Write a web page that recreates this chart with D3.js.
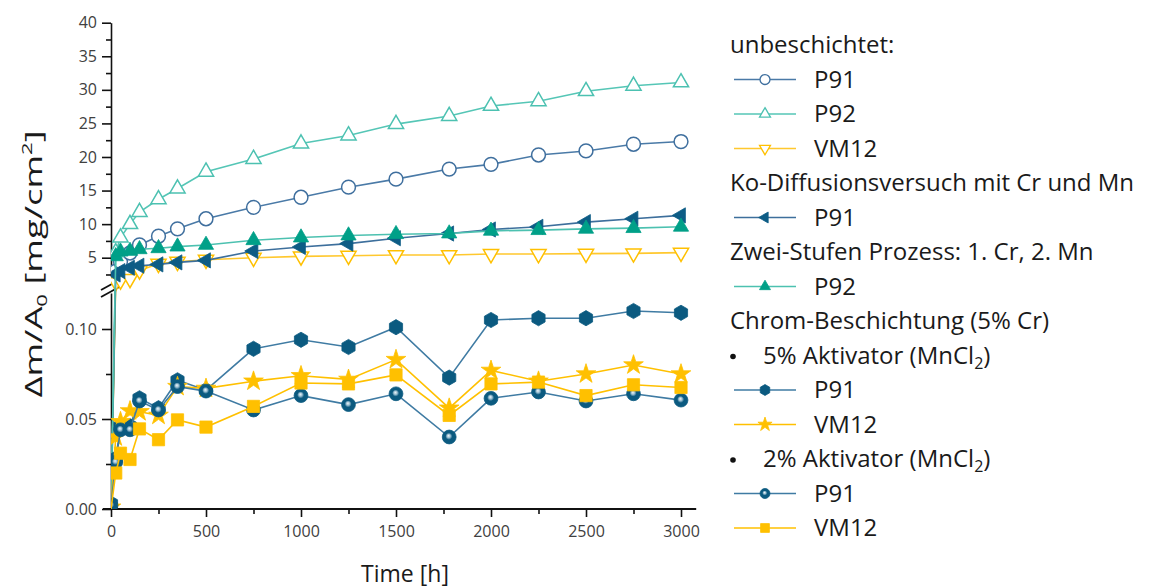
<!DOCTYPE html>
<html><head><meta charset="utf-8">
<script src="https://cdn.jsdelivr.net/npm/d3@7"></script>
<style>body{margin:0;background:#fff;} svg{display:block;font-family:"Open Sans",sans-serif;}</style>
</head><body><svg id="c" width="1152" height="588"></svg>
<script>
// ---- data ----
const times = [0, 25, 50, 100, 150, 250, 350, 500, 750, 1000, 1250, 1500, 1780, 2000, 2250, 2500, 2750, 3000];
// upper panel (mg/cm2)
const p91Uncoated  = [0, 3.0, 4.4, 5.7, 6.9, 8.2, 9.3, 10.8, 12.5, 14.0, 15.5, 16.7, 18.2, 18.9, 20.3, 20.9, 21.9, 22.3];
const p92Uncoated  = [0, 5.8, 8.0, 10.0, 11.8, 13.7, 15.3, 17.8, 19.7, 22.0, 23.2, 24.9, 26.1, 27.6, 28.3, 29.8, 30.6, 31.1];
const vm12Uncoated = [0, 1.5, 1.7, 1.9, 3.1, 4.1, 4.4, 4.7, 5.0, 5.2, 5.3, 5.4, 5.4, 5.55, 5.55, 5.6, 5.65, 5.75];
const p91CoDiff    = [0, 2.5, 3.0, 3.5, 3.8, 4.0, 4.3, 4.6, 6.0, 6.6, 7.1, 7.9, 8.6, 9.2, 9.6, 10.3, 10.8, 11.3];
const p92TwoStep   = [0, 5.2, 5.9, 6.0, 6.25, 6.4, 6.65, 6.9, 7.6, 8.0, 8.3, 8.5, 8.6, 9.0, 9.1, 9.3, 9.4, 9.6];
// lower panel (mg/cm2)
const p91Act5  = [0.003, 0.028, 0.046, 0.046, 0.0615, 0.056, 0.0715, 0.066, 0.089, 0.094, 0.090, 0.101, 0.073, 0.105, 0.106, 0.106, 0.110, 0.109];
const vm12Act5 = [0.001, 0.040, 0.0485, 0.0545, 0.054, 0.052, 0.068, 0.067, 0.071, 0.074, 0.072, 0.083, 0.056, 0.077, 0.071, 0.075, 0.080, 0.075];
const p91Act2  = [0.002, 0.026, 0.044, 0.044, 0.060, 0.055, 0.068, 0.0655, 0.055, 0.063, 0.058, 0.064, 0.040, 0.0615, 0.065, 0.060, 0.064, 0.0605];
const vm12Act2 = [0.0, 0.020, 0.031, 0.0275, 0.0445, 0.0385, 0.0495, 0.0455, 0.057, 0.070, 0.0695, 0.0745, 0.052, 0.0695, 0.0705, 0.063, 0.069, 0.0675];

const xTickValues = [0, 500, 1000, 1500, 2000, 2500, 3000];
const xMinorTicks = [250, 750, 1250, 1750, 2250, 2750];
const yLowTicks = [0, 0.05, 0.10];
const yLowMinor = [0.025, 0.075];
const yUpTicks = [5, 10, 15, 20, 25, 30, 35, 40];
const yUpMinor = [2.5, 7.5, 12.5, 17.5, 22.5, 27.5, 32.5, 37.5];

const legendHeaders = ["unbeschichtet:", "Ko-Diffusionsversuch mit Cr und Mn", "Zwei-Stufen Prozess: 1. Cr, 2. Mn", "Chrom-Beschichtung (5% Cr)"];
const legendBullets = ["5% Aktivator (MnCl", "2% Aktivator (MnCl"];

// ---- styles ----
const series = [
  {label:"P91",  values:p91Uncoated,  marker:"circle", fill:"#fff",    stroke:"#3f6f9e", line:"#4a7aa7", skipFirst:true},
  {label:"P92",  values:p92Uncoated,  marker:"triUp",  fill:"#fff",    stroke:"#4cc1b1", line:"#55c6b6", skipFirst:true},
  {label:"VM12", values:vm12Uncoated, marker:"triDown",fill:"#fff",    stroke:"#ffc000", line:"#ffc82e", skipFirst:true},
  {label:"P91",  values:p91CoDiff,    marker:"triLeft",fill:"#0d5c85", stroke:"#0d5c85", line:"#3d6f9c", skipFirst:true},
  {label:"P92",  values:p92TwoStep,   marker:"triUp",  fill:"#00a088", stroke:"#00a088", line:"#4cc1b0", skipFirst:true},
  {label:"P91",  values:p91Act5,      marker:"hex",    fill:"#0b5a80", stroke:"#0b5a80", line:"#3f7ba3"},
  {label:"VM12", values:vm12Act5,     marker:"star",   fill:"#ffc000", stroke:"#ffc000", line:"#ffc000"},
  {label:"P91",  values:p91Act2,      marker:"sphere", fill:"url(#sph)", stroke:"#0b5a80", line:"#3f7ba3"},
  {label:"VM12", values:vm12Act2,     marker:"square", fill:"#ffc000", stroke:"#ffc000", line:"#ffc000"}
];

const svg = d3.select("#c");
const defs = svg.append("defs");
const rg = defs.append("radialGradient").attr("id","sph").attr("cx","0.5").attr("cy","0.5").attr("r","0.5").attr("fx","0.45").attr("fy","0.4");
rg.append("stop").attr("offset","0%").attr("stop-color","#eef5f9");
rg.append("stop").attr("offset","25%").attr("stop-color","#9cc0d3");
rg.append("stop").attr("offset","50%").attr("stop-color","#0b5a80");
rg.append("stop").attr("offset","100%").attr("stop-color","#0b5a80");
defs.append("clipPath").attr("id","plotClip").append("rect").attr("x",111).attr("y",0).attr("width",600).attr("height",509);

const x = d3.scaleLinear().domain([0, 3000]).range([111, 681]);
const yLow = d3.scaleLinear().domain([0, 0.12]).range([509, 293]);
const yUp = d3.scaleLinear().domain([2.2, 40]).range([276.5, 22.7]);
const y = d3.scaleLinear().domain([0, 0.12, 2.2, 40]).range([509, 293, 276.5, 22.7]);

function markerPath(type, s) {
  const sc = s || 1;
  switch (type) {
    case "circle": case "sphere": return d3.symbol(d3.symbolCircle, 150*sc*sc)();
    case "triUp": case "triDown": case "triLeft": return d3.symbol(d3.symbolTriangle, 100*sc*sc)();
    case "star": return d3.symbol(d3.symbolStar, 120*sc*sc)();
    case "square": return d3.symbol(d3.symbolSquare, 150*sc*sc)();
    case "hex": {
      const r = 7.6*sc; const pts = d3.range(6).map(k => { const a = (-90 + 60*k) * Math.PI/180; return [r*Math.cos(a), r*Math.sin(a)]; });
      return "M" + pts.map(p => p.join(",")).join("L") + "Z";
    }
  }
}
function rot(type) { return type === "triDown" ? 180 : type === "triLeft" ? -90 : 0; }

const tickColor = "#404040";
const axisFont = 16;

// ---- axes ----
function styleAxis(g) {
  g.selectAll("path,line").attr("stroke", "#111").attr("stroke-width", 1.6);
  g.selectAll("text").attr("fill", tickColor).attr("font-size", axisFont).attr("font-family", '"Open Sans",sans-serif');
}
const gx = svg.append("g").attr("transform", "translate(0,509)")
  .call(d3.axisBottom(x).tickValues(xTickValues).tickSize(8).tickSizeOuter(0).tickPadding(9).tickFormat(d3.format("d")));
gx.select(".domain").remove();
styleAxis(gx);
const gxm = svg.append("g").attr("transform", "translate(0,509)")
  .call(d3.axisBottom(x).tickValues(xMinorTicks).tickSize(5).tickFormat(""));
gxm.select(".domain").remove();
styleAxis(gxm);
svg.append("line").attr("x1", x.range()[0] - 8).attr("x2", x(3080)).attr("y1", 509).attr("y2", 509)
  .attr("stroke", "#111").attr("stroke-width", 1.8);

const gyl = svg.append("g").attr("transform", "translate(111,0)")
  .call(d3.axisLeft(yLow).tickValues(yLowTicks).tickSize(9).tickSizeOuter(0).tickPadding(5).tickFormat(d3.format(".2f")));
styleAxis(gyl);
const gylm = svg.append("g").attr("transform", "translate(111,0)")
  .call(d3.axisLeft(yLow).tickValues(yLowMinor).tickSize(5).tickFormat(""));
gylm.select(".domain").remove(); styleAxis(gylm);
const gyu = svg.append("g").attr("transform", "translate(111,0)")
  .call(d3.axisLeft(yUp).tickValues(yUpTicks).tickSize(9).tickSizeOuter(0).tickPadding(5).tickFormat(d3.format("d")));
styleAxis(gyu);
const gyum = svg.append("g").attr("transform", "translate(111,0)")
  .call(d3.axisLeft(yUp).tickValues(yUpMinor).tickSize(5).tickFormat(""));
gyum.select(".domain").remove(); styleAxis(gyum);

// break marks
[0, 7].forEach(o => {
  svg.append("line").attr("x1", 101).attr("y1", 290 + o).attr("x2", 121).attr("y2", 279 + o)
    .attr("stroke", "#111").attr("stroke-width", 1.8);
});

// axis titles
svg.append("text").attr("x", 405).attr("y", 582).attr("text-anchor", "middle")
  .attr("font-size", 23).attr("fill", "#1a1a1a").text("Time [h]");
const yt = svg.append("text").attr("transform", "translate(42,264) rotate(-90) scale(1.58,1)").attr("text-anchor", "middle")
  .attr("font-size", 23).attr("fill", "#1a1a1a");
yt.append("tspan").text("Δm/A");
yt.append("tspan").attr("dy", 5).attr("font-size", 14).text("0");
yt.append("tspan").attr("dy", -5).text(" [mg/cm");
yt.append("tspan").attr("dy", -10).attr("font-size", 14).text("2");
yt.append("tspan").attr("dy", 10).text("]");

// ---- series ----
const plot = svg.append("g").attr("clip-path", "url(#plotClip)");
const line = d3.line().x(d => x(d.t)).y(d => y(d.v));
series.forEach(s => {
  const pts = times.map((t, i) => ({t, v: s.values[i]}));
  plot.append("path").datum(pts).attr("d", line).attr("fill", "none")
    .attr("stroke", s.line).attr("stroke-width", 1.6);
  const mp = s.skipFirst ? pts.slice(1) : pts.filter(d => d.v > 0);
  plot.selectAll(null).data(mp).enter().append("path")
    .attr("d", markerPath(s.marker))
    .attr("transform", d => `translate(${x(d.t)},${y(d.v)}) rotate(${rot(s.marker)})`)
    .attr("fill", s.fill).attr("stroke", s.stroke).attr("stroke-width", s.fill === "#fff" ? 1.5 : 0.8);
});

// ---- legend ----
const lg = svg.append("g");
const legendFont = 24;
const rowY = i => 45 + i * 34.5;
const legendRows = [
  {h:0}, {s:0}, {s:1}, {s:2},
  {h:1}, {s:3},
  {h:2}, {s:4},
  {h:3}, {b:0}, {s:5}, {s:6}, {b:1}, {s:7}, {s:8}
];
legendRows.forEach((r, i) => {
  const yy = rowY(i);
  if (r.h !== undefined) {
    lg.append("text").attr("x", 730).attr("y", yy).attr("dy", "0.35em").attr("font-size", legendFont).attr("fill", "#1a1a1a").text(legendHeaders[r.h]);
  } else if (r.b !== undefined) {
    lg.append("circle").attr("cx", 733).attr("cy", yy + 1).attr("r", 2.8).attr("fill", "#111");
    const t = lg.append("text").attr("x", 763).attr("y", yy).attr("dy", "0.35em").attr("font-size", legendFont).attr("fill", "#1a1a1a");
    t.append("tspan").text(legendBullets[r.b]);
    t.append("tspan").attr("dy", 5).attr("font-size", 16).text("2");
    t.append("tspan").attr("dy", -5).text(")");
  } else {
    const s = series[r.s];
    lg.append("line").attr("x1", 734).attr("x2", 796).attr("y1", yy).attr("y2", yy).attr("stroke", s.line).attr("stroke-width", 1.6);
    lg.append("path").attr("d", markerPath(s.marker, 0.72))
      .attr("transform", `translate(765,${yy}) rotate(${rot(s.marker)})`)
      .attr("fill", s.fill).attr("stroke", s.stroke).attr("stroke-width", s.fill === "#fff" ? 1.3 : 0.8);
    lg.append("text").attr("x", 814).attr("y", yy).attr("dy", "0.35em").attr("font-size", legendFont).attr("fill", "#1a1a1a").text(s.label);
  }
});
</script></body></html>
